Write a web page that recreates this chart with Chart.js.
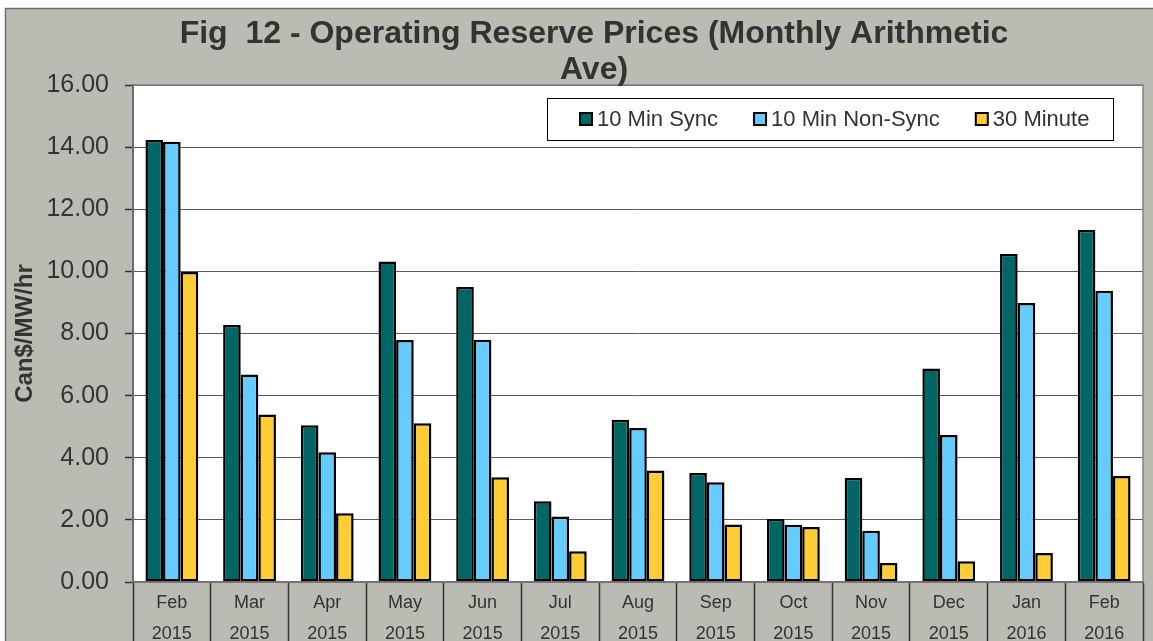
<!DOCTYPE html>
<html>
<head>
<meta charset="utf-8">
<script src="https://cdn.jsdelivr.net/npm/chart.js@4/dist/chart.umd.min.js"></script>
<style>
  html, body { margin: 0; padding: 0; background: #ffffff; }
  #wrap { width: 1153px; height: 641px; }
</style>
</head>
<body>
<div id="wrap"><canvas id="chart" width="1153" height="641"></canvas></div>
<script>
const titleLines = ['Fig  12 - Operating Reserve Prices (Monthly Arithmetic', 'Ave)'];
const months = ['Feb', 'Mar', 'Apr', 'May', 'Jun', 'Jul', 'Aug', 'Sep', 'Oct', 'Nov', 'Dec', 'Jan', 'Feb'];
const years = ['2015', '2015', '2015', '2015', '2015', '2015', '2015', '2015', '2015', '2015', '2015', '2016', '2016'];
const seriesNames = ['10 Min Sync', '10 Min Non-Sync', '30 Minute'];
const sync10 = [14.23, 8.27, 5.05, 10.32, 9.50, 2.60, 5.22, 3.51, 2.03, 3.35, 6.87, 10.56, 11.33];
const nonSync10 = [14.17, 6.68, 4.18, 7.79, 7.80, 2.11, 4.96, 3.21, 1.84, 1.65, 4.73, 8.98, 9.38];
const min30 = [9.98, 5.39, 2.21, 5.11, 3.37, 0.99, 3.59, 1.85, 1.77, 0.61, 0.67, 0.93, 3.41];
const yTitle = 'Can$/MW/hr';

const colors = ['#006666', '#66ccff', '#ffcc33'];
const FONT = '"Liberation Sans", Arial, sans-serif';
const PANEL = '#bcbbb3';

// frame, plot background and border
const framePlugin = {
    id: 'frame',
    beforeDraw(chart) {
        const ctx = chart.ctx;
        const a = chart.chartArea;
        ctx.save();
        ctx.fillStyle = PANEL;
        ctx.fillRect(5, 8, chart.width - 5, chart.height - 8);
        ctx.strokeStyle = '#6e6e6e';
        ctx.lineWidth = 1.5;
        ctx.beginPath();
        ctx.moveTo(5.5, chart.height);
        ctx.lineTo(5.5, 8.5);
        ctx.lineTo(chart.width, 8.5);
        ctx.stroke();
        ctx.fillStyle = '#ffffff';
        ctx.fillRect(a.left, a.top, a.right - a.left, a.bottom - a.top);
        ctx.restore();
    },
    afterDatasetsDraw(chart) {
        const ctx = chart.ctx;
        const a = chart.chartArea;
        ctx.save();
        ctx.strokeStyle = '#808080';
        ctx.lineWidth = 1.5;
        ctx.strokeRect(a.left, a.top, a.right - a.left, a.bottom - a.top);
        ctx.restore();
    }
};

// title and boxed legend
const textPlugin = {
    id: 'texts',
    afterDraw(chart) {
        const ctx = chart.ctx;
        ctx.save();
        ctx.fillStyle = '#333333';
        ctx.font = 'bold 32px ' + FONT;
        ctx.textAlign = 'center';
        ctx.textBaseline = 'middle';
        titleLines.forEach((t, i) => ctx.fillText(t, 594, 34 + i * 36));

        // legend box
        ctx.fillStyle = '#ffffff';
        ctx.fillRect(547, 98, 566, 42);
        ctx.strokeStyle = '#000000';
        ctx.lineWidth = 1;
        ctx.strokeRect(547.5, 98.5, 566, 42);

        ctx.font = '22px ' + FONT;
        ctx.textAlign = 'left';
        let x = 580;
        chart.data.datasets.forEach(ds => {
            ctx.fillStyle = ds.backgroundColor;
            ctx.fillRect(x, 113, 12, 12);
            ctx.strokeStyle = '#000000';
            ctx.lineWidth = 2;
            ctx.strokeRect(x, 113, 12, 12);
            ctx.fillStyle = '#333333';
            ctx.fillText(ds.label, x + 17, 120);
            x += 17 + ctx.measureText(ds.label).width + 36;
        });
        ctx.restore();
    }
};

const ctx = document.getElementById('chart').getContext('2d');
new Chart(ctx, {
    type: 'bar',
    data: {
        labels: months.map((m, i) => [m, years[i]]),
        datasets: [sync10, nonSync10, min30].map((d, i) => ({
            label: seriesNames[i],
            data: d,
            backgroundColor: colors[i],
            borderColor: '#000000',
            borderWidth: 2.5,
            borderSkipped: false,
            barPercentage: 1,
            categoryPercentage: 0.68
        }))
    },
    options: {
        responsive: false,
        animation: false,
        layout: { padding: { left: 5, top: 85, right: 10, bottom: 0 } },
        plugins: {
            legend: { display: false },
            title: { display: false },
            tooltip: { enabled: false }
        },
        scales: {
            x: {
                offset: true,
                grid: {
                    offset: true,
                    drawOnChartArea: false,
                    drawTicks: true,
                    tickLength: 60,
                    tickColor: '#333333',
                    tickWidth: 1.5
                },
                border: { color: '#555555', width: 2 },
                ticks: {
                    color: '#333333',
                    font: { family: FONT, size: 18, lineHeight: 1.72 },
                    padding: -54,
                    maxRotation: 0,
                    autoSkip: false
                },
                afterFit(scale) { scale.height = 59; }
            },
            y: {
                min: 0,
                max: 16,
                ticks: {
                    stepSize: 2,
                    color: '#333333',
                    font: { family: FONT, size: 25 },
                    padding: 16,
                    callback: v => v.toFixed(2)
                },
                grid: {
                    color: '#5a5a5a',
                    lineWidth: 1,
                    tickLength: 8,
                    tickColor: '#333333',
                    tickWidth: 1.5
                },
                border: { color: '#333333', width: 2 },
                title: {
                    display: true,
                    text: yTitle,
                    color: '#333333',
                    font: { family: FONT, size: 24, weight: 'bold' },
                    padding: { top: 6, bottom: 0 }
                },
                afterFit(scale) { scale.width = 128; }
            }
        }
    },
    plugins: [framePlugin, textPlugin]
});
</script>
</body>
</html>
